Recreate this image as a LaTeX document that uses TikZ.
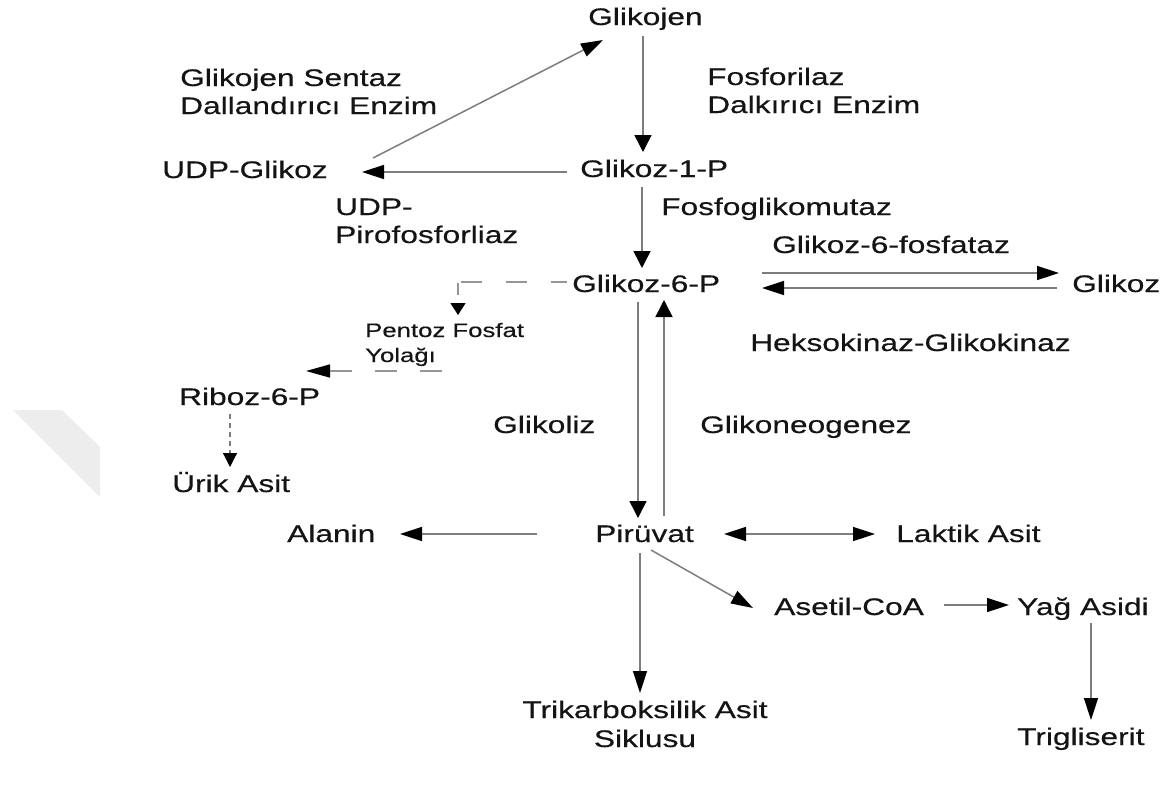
\documentclass[tikz,border=0pt]{standalone}
\usepackage{fontspec}
\newfontfamily\lbfont{Liberation Sans}[FakeStretch=1.32,FakeBold=0.4]
\usetikzlibrary{arrows.meta}
\definecolor{linegray}{RGB}{125,125,125}
\definecolor{dashgray}{RGB}{150,150,150}
\definecolor{txt}{RGB}{20,20,20}
\definecolor{wm}{RGB}{237,237,237}
\tikzset{
  lbl/.style={inner sep=0pt, anchor=base west, text=txt, font=\lbfont\fontsize{24}{28}\selectfont},
  lblc/.style={lbl, anchor=base},
  lbls/.style={lbl, font=\lbfont\fontsize{19.5}{24}\selectfont},
  arr/.style={draw=linegray, line width=1.5pt, -{Triangle[length=22pt,width=14pt,color=black,fill=black]}},
  arrv/.style={draw=linegray, line width=1.5pt, -{Triangle[length=17pt,width=17pt,color=black,fill=black]}},
  arrb/.style={draw=linegray, line width=1.5pt, {Triangle[length=22pt,width=14pt,color=black,fill=black]}-{Triangle[length=22pt,width=14pt,color=black,fill=black]}},
  dsh/.style={draw=dashgray, line width=1.5pt, dash pattern=on 22pt off 23pt},
  dshfine/.style={draw=linegray, line width=1.2pt, dash pattern=on 5pt off 4pt}
}
\begin{document}
\begin{tikzpicture}[x=1pt,y=-1pt]
\useasboundingbox (0,0) rectangle (1171,785);
% faint watermark
\fill[wm] (13,410) -- (62,410) -- (100,447) -- (100,497) -- cycle;

% nodes
\node[lbl] (glikojen) at (588,25) {Glikojen};
\node[lbl] (gs1) at (180,86) {Glikojen Sentaz};
\node[lbl] (gs2) at (180,114) {Dallandırıcı Enzim};
\node[lbl] (fos1) at (707,85) {Fosforilaz};
\node[lbl] (fos2) at (707,113) {Dalkırıcı Enzim};
\node[lbl] (udpg) at (162,178) {UDP-Glikoz};
\node[lbl] (g1p) at (580,177) {Glikoz-1-P};
\node[lbl] (udp1) at (335,215) {UDP-};
\node[lbl] (udp2) at (335,243) {Pirofosforliaz};
\node[lbl] (fgm) at (661,215) {Fosfoglikomutaz};
\node[lbl] (g6paz) at (772,253) {Glikoz-6-fosfataz};
\node[lbl] (g6p) at (572,292) {Glikoz-6-P};
\node[lbl] (glikoz) at (1072,292) {Glikoz};
\node[lbls] (pfy1) at (365,337) {Pentoz Fosfat};
\node[lbls] (pfy2) at (365,362) {Yolağı};
\node[lbl] (hk) at (750,351) {Heksokinaz-Glikokinaz};
\node[lbl] (riboz) at (179,405) {Riboz-6-P};
\node[lbl] (glikoliz) at (493,433) {Glikoliz};
\node[lbl] (glikoneo) at (700,433) {Glikoneogenez};
\node[lbl] (urik) at (172,492) {Ürik Asit};
\node[lbl] (alanin) at (287,542) {Alanin};
\node[lbl] (piruvat) at (595,542) {Pirüvat};
\node[lbl] (laktik) at (896,542) {Laktik Asit};
\node[lbl] (asetil) at (774,615) {Asetil-CoA};
\node[lbl] (yag) at (1017,615) {Yağ Asidi};
\node[lbl] (trig) at (1017,745) {Trigliserit};
\node[lblc] (tca1) at (645,718) {Trikarboksilik Asit};
\node[lblc] (tca2) at (645,747) {Siklusu};

% connectors
\draw[arrv] ([shift={(55,11)}]glikojen.base west) -- ([shift={(63,-25)}]g1p.base west);
\draw[arr] ([shift={(-13,-5)}]g1p.base west) -- ([shift={(200,-6)}]udpg.base west);
\draw[arr] ([shift={(211,-20)}]udpg.base west) -- ([shift={(15,15)}]glikojen.base west);
\draw[arrv] ([shift={(62,10)}]g1p.base west) -- ([shift={(70,-24)}]g6p.base west);
\draw[arr] ([shift={(190,-19)}]g6p.base west) -- ([shift={(-13,-19)}]glikoz.base west);
\draw[arr] ([shift={(-15,-4)}]glikoz.base west) -- ([shift={(190,-4)}]g6p.base west);
\draw[dsh, dash pattern=on 16pt off 24pt on 21pt off 24pt on 21pt off 4pt on 12pt off 30pt,
      -{Triangle[length=12pt,width=15pt,color=black,fill=black]}]
      ([shift={(-5,-10)}]g6p.base west) -| ([shift={(93,-22)}]pfy1.base west);
\draw[dsh, -{Triangle[length=24pt,width=13pt,color=black,fill=black]}]
      ([shift={(77,9)}]pfy2.base west) -- ([shift={(127,-34)}]riboz.base west);
\draw[dshfine, -{Triangle[length=14pt,width=14pt,color=black,fill=black]}]
      ([shift={(51,9)}]riboz.base west) -- ([shift={(58,-25)}]urik.base west);
\draw[arrv] ([shift={(66,10)}]g6p.base west) -- ([shift={(43,-24)}]piruvat.base west);
\draw[arrv] ([shift={(69,-26)}]piruvat.base west) -- ([shift={(92,8)}]g6p.base west);
\draw[arr] ([shift={(-58,-8)}]piruvat.base west) -- ([shift={(113,-8)}]alanin.base west);
\draw[arrb] ([shift={(129,-8)}]piruvat.base west) -- ([shift={(-21,-8)}]laktik.base west);
\draw[arr] ([shift={(56,8)}]piruvat.base west) -- ([shift={(-21,-7)}]asetil.base west);
\draw[arr] ([shift={(170,-10)}]asetil.base west) -- ([shift={(-8,-10)}]yag.base west);
\draw[arr] ([shift={(74,8)}]yag.base west) -- ([shift={(74,-25)}]trig.base west);
\draw[arr] ([shift={(45,11)}]piruvat.base west) -- ([shift={(-5,-25)}]tca1.base);
\end{tikzpicture}
\end{document}
